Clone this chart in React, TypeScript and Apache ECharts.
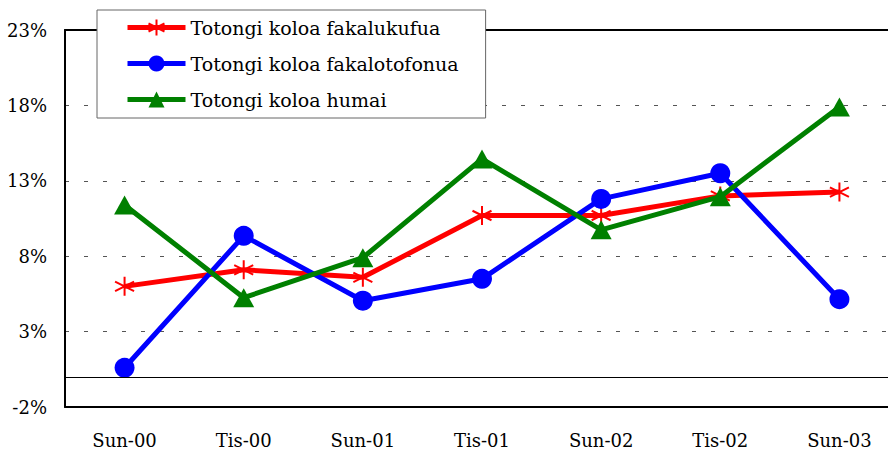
import React, { useEffect, useRef } from "react";
import * as echarts from "echarts";

const categories = ["Sun-00", "Tis-00", "Sun-01", "Tis-01", "Sun-02", "Tis-02", "Sun-03"];
const seriesNames = [
  "Totongi koloa fakalukufua",
  "Totongi koloa fakalotofonua",
  "Totongi koloa humai",
];
const fakalukufua = [6.0, 7.1, 6.6, 10.7, 10.7, 12.0, 12.25];
const fakalotofonua = [0.6, 9.35, 5.05, 6.5, 11.8, 13.5, 5.15];
const humai = [11.4, 5.25, 7.9, 14.45, 9.75, 11.95, 17.9];
const yMin = -2;
const yMax = 23;
const yInterval = 5;

const FONT = "DejaVu Serif";
const asterisk =
  "path://M0,-10L0,10M-8.66,-5L8.66,5M-8.66,5L8.66,-5";

export default function App() {
  const ref = useRef<HTMLDivElement>(null);
  useEffect(() => {
    if (!ref.current) return;
    const chart = echarts.init(ref.current, undefined, { renderer: "svg" });
    chart.setOption({
      animation: false,
      backgroundColor: "#fff",
      textStyle: { fontFamily: FONT },
      grid: {
        left: 65,
        top: 30,
        width: 834,
        height: 377,
        containLabel: false,
        outerBoundsMode: "none",
      },
      legend: {
        orient: "vertical",
        left: 97,
        top: 10,
        padding: [8, 27, 9, 28],
        itemWidth: 58,
        itemHeight: 20,
        itemGap: 17,
        backgroundColor: "#fff",
        borderColor: "#666",
        borderWidth: 1,
        borderRadius: 0,
        lineStyle: { width: 5 },
        textStyle: { fontFamily: FONT, fontSize: 19, color: "#000" },
        data: seriesNames,
      },
      xAxis: [
        {
          type: "category",
          data: categories,
          boundaryGap: true,
          position: "bottom",
          axisLine: { onZero: false, lineStyle: { color: "#000", width: 2 } },
          axisTick: { show: false },
          axisLabel: { color: "#000", fontFamily: FONT, fontSize: 18, margin: 24 },
          splitLine: { show: false },
        },
        {
          type: "category",
          data: categories,
          position: "top",
          axisLine: { onZero: false, lineStyle: { color: "#000", width: 2 } },
          axisTick: { show: false },
          axisLabel: { show: false },
          splitLine: { show: false },
        },
      ],
      yAxis: {
        type: "value",
        min: yMin,
        max: yMax,
        interval: yInterval,
        axisLine: { show: true, lineStyle: { color: "#000", width: 2 } },
        axisTick: { show: false },
        axisLabel: {
          color: "#000",
          fontFamily: FONT,
          fontSize: 18,
          margin: 18,
          formatter: (v: number) => `${v}%`,
        },
        splitLine: { show: true, lineStyle: { color: "#555", width: 1, type: [4, 15] } },
      },
      series: [
        {
          name: seriesNames[0],
          type: "line",
          data: fakalukufua,
          color: "#ff0000",
          symbol: asterisk,
          symbolSize: 19,
          lineStyle: { color: "#ff0000", width: 5 },
          itemStyle: { color: "#ff0000", borderColor: "#ff0000", borderWidth: 2 },
          markLine: {
            silent: true,
            symbol: "none",
            label: { show: false },
            lineStyle: { color: "#000", width: 1, type: "solid" },
            data: [{ yAxis: 0 }],
          },
          z: 2,
        },
        {
          name: seriesNames[1],
          type: "line",
          data: fakalotofonua,
          color: "#0000ff",
          symbol: "circle",
          symbolSize: 20,
          lineStyle: { color: "#0000ff", width: 5 },
          itemStyle: { color: "#0000ff" },
          z: 3,
        },
        {
          name: seriesNames[2],
          type: "line",
          data: humai,
          color: "#008000",
          symbol: "triangle",
          symbolSize: [21, 19],
          lineStyle: { color: "#008000", width: 5 },
          itemStyle: { color: "#008000" },
          z: 4,
        },
      ],
    });
    return () => chart.dispose();
  }, []);
  return (
    <div
      ref={ref}
      style={{ position: "absolute", left: 0, top: 0, width: 888, height: 452 }}
    />
  );
}
